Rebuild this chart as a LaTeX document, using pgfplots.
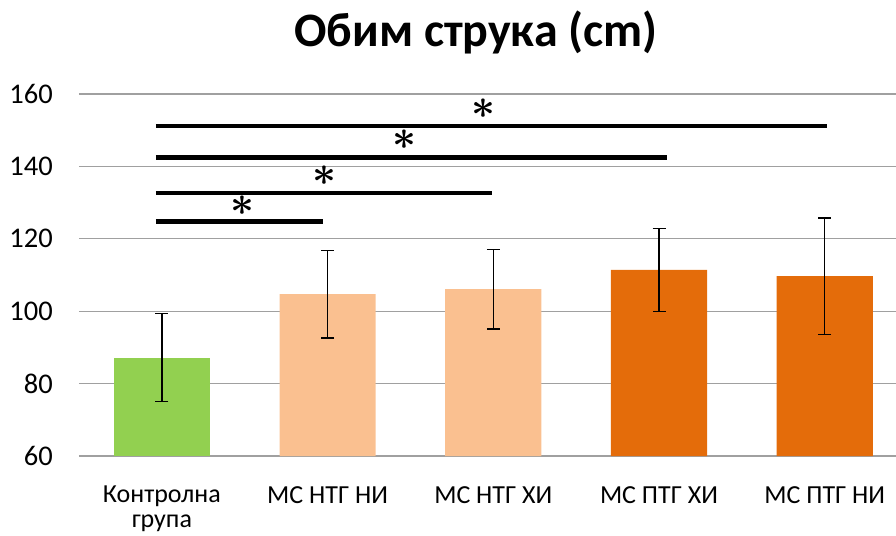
\documentclass[border=0pt]{standalone}
\usepackage{fontspec}
\setmainfont{Carlito}
\usepackage{pgfplots}
\pgfplotsset{compat=1.18}
\definecolor{cgreen}{HTML}{92D050}
\definecolor{clight}{HTML}{FAC090}
\definecolor{cdark}{HTML}{E46C0A}
\definecolor{cgrid}{HTML}{A0A0A0}
\tikzset{star/.style={font=\fontsize{24}{24}\selectfont\boldmath, scale=1.67, anchor=base, inner sep=0pt}}
\begin{document}
\begin{tikzpicture}
\begin{axis}[
  scale only axis, width=817pt, height=362pt,
  xmin=-0.5, xmax=4.43, ymin=60, ymax=160,
  ytick={60,80,...,160},
  xtick={0,1,2,3,4},
  xticklabels={{Контролна\\група},{МС НТГ НИ},{МС НТГ ХИ},{МС ПТГ ХИ},{МС ПТГ НИ}},
  xticklabel style={align=center, anchor=north, inner sep=0pt, yshift=-30pt, font=\fontsize{26}{25}\selectfont},
  yticklabel style={anchor=east, inner sep=0pt, xshift=-26pt, font=\fontsize{28.5}{30}\selectfont},
  /pgf/number format/assume math mode=true,
  ymajorgrids, grid style={cgrid, line width=1.3pt},
  axis line style={draw=none},
  major tick length=0pt,
  tick style={draw=none},
  error bars/error bar style={black, line width=1.5pt},
  error bars/error mark options={black, line width=1.5pt, mark size=6.5pt, rotate=90},
]
\addplot[ybar, bar shift=0pt, bar width=0.58, fill=cgreen, draw=none,
  error bars/.cd, y dir=both, y explicit]
  coordinates {(0,87.2) +- (0,12.1)};
\addplot[ybar, bar shift=0pt, bar width=0.58, fill=clight, draw=none,
  error bars/.cd, y dir=both, y explicit]
  coordinates {(1,104.7) +- (0,12.1) (2,106.1) +- (0,11.0)};
\addplot[ybar, bar shift=0pt, bar width=0.58, fill=cdark, draw=none,
  error bars/.cd, y dir=both, y explicit]
  coordinates {(3,111.4) +- (0,11.5) (4,109.7) +- (0,16.1)};
% significance lines
\addplot[black, line width=4.6pt, mark=none] coordinates {(-0.036,124.7) (0.975,124.7)};
\addplot[black, line width=4.6pt, mark=none] coordinates {(-0.036,132.7) (1.99,132.7)};
\addplot[black, line width=4.6pt, mark=none] coordinates {(-0.036,142.4) (3.05,142.4)};
\addplot[black, line width=4.6pt, mark=none] coordinates {(-0.036,151.2) (4.015,151.2)};
\node[star] at (axis cs:0.489,126.3) {$\ast$};
\node[star] at (axis cs:0.981,134.85) {$\ast$};
\node[star] at (axis cs:1.466,144.75) {$\ast$};
\node[star] at (axis cs:1.938,153.25) {$\ast$};
\end{axis}
\node[anchor=base, font=\fontsize{48}{54}\selectfont\bfseries] at (397pt,409pt) {Обим струка (cm)};
\pgfresetboundingbox
\path[use as bounding box] (-79pt,-79pt) rectangle (817pt,456pt);
\end{tikzpicture}
\end{document}
